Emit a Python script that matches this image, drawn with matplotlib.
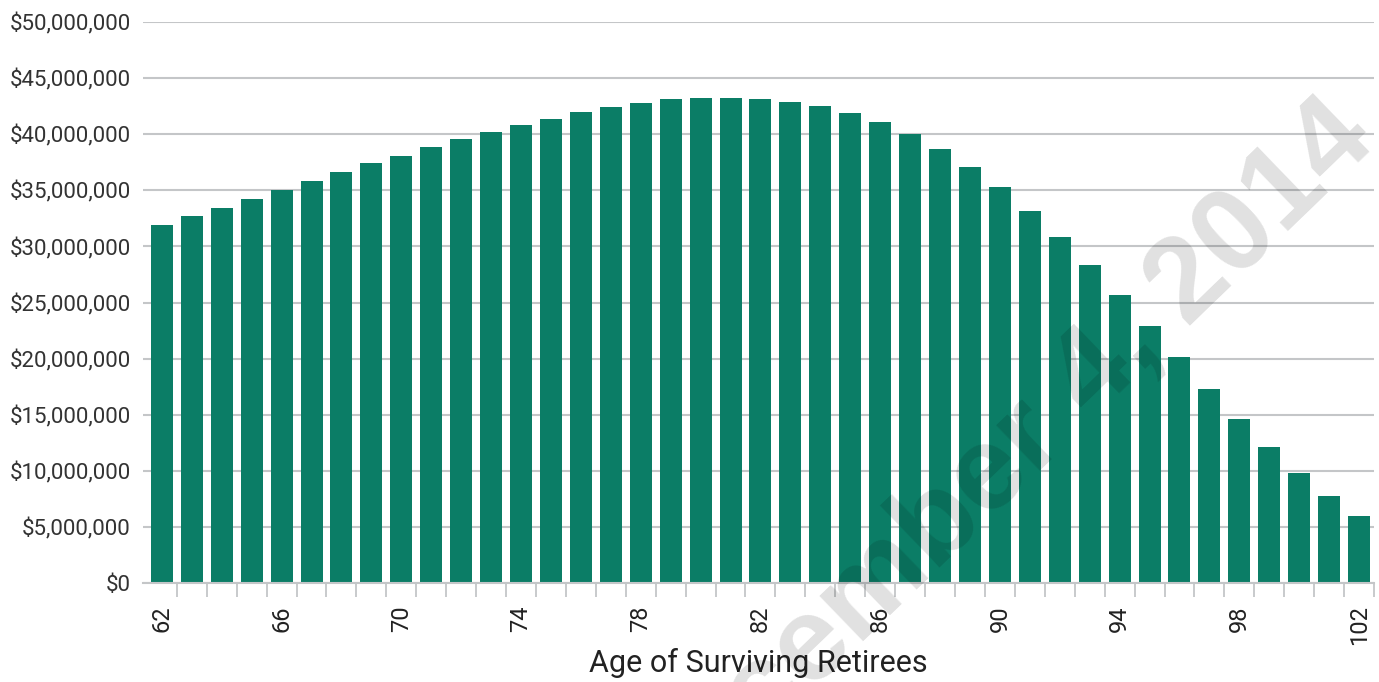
import matplotlib
matplotlib.use("Agg")
import matplotlib.pyplot as plt
from matplotlib.ticker import FixedLocator, StrMethodFormatter

# ages of surviving retirees and total value (in dollars)
ages = [62, 63, 64, 65, 66, 67, 68, 69, 70, 71, 72, 73, 74, 75, 76, 77, 78,
        79, 80, 81, 82, 83, 84, 85, 86, 87, 88, 89, 90, 91, 92, 93, 94, 95,
        96, 97, 98, 99, 100, 101, 102]
values_m = [31.9, 32.7, 33.4, 34.2, 35.0, 35.8, 36.6, 37.4, 38.1, 38.9, 39.6,
            40.2, 40.8, 41.4, 42.0, 42.4, 42.8, 43.1, 43.2, 43.2, 43.1, 42.9,
            42.5, 41.9, 41.1, 40.05, 38.7, 37.1, 35.3, 33.2, 30.8, 28.3, 25.7,
            22.9, 20.1, 17.3, 14.6, 12.1, 9.8, 7.75, 5.97]
values = [v * 1e6 for v in values_m]
x_labels = [62, 66, 70, 74, 78, 82, 86, 90, 94, 98, 102]
y_ticks = [0, 5e6, 10e6, 15e6, 20e6, 25e6, 30e6, 35e6, 40e6, 45e6, 50e6]
watermark = "December 4, 2014"

plt.rcParams["font.family"] = ["Roboto", "DejaVu Sans"]

fig = plt.figure(figsize=(13.79, 6.82), dpi=100)
ax = fig.add_axes([0.1037, 0.1452, 0.8927, 0.8225])

ax.bar(ages, values, width=0.735, color="#0b7d66", zorder=2)

ax.set_xlim(61.37, 102.5)
ax.set_ylim(0, 50e6)

# gridlines
ax.set_yticks(y_ticks)
ax.yaxis.set_major_formatter(StrMethodFormatter("${x:,.0f}"))
ax.grid(axis="y", color="#c4c6c8", linewidth=1.5, zorder=1)
ax.tick_params(axis="y", length=0, pad=9, labelsize=16, labelcolor="#333333")

# x ticks: labels every 4 years, small marks between bars
ax.set_xticks(x_labels)
ax.set_xticklabels([str(a) for a in x_labels], rotation=90)
ax.tick_params(axis="x", which="major", length=0, pad=16, labelsize=17,
               labelcolor="#222222")
ax.xaxis.set_minor_locator(FixedLocator([a + 0.5 for a in ages]))
ax.tick_params(axis="x", which="minor", length=10, width=1.3, color="#c4c6c8")

for side in ["top", "right", "left"]:
    ax.spines[side].set_visible(False)
ax.spines["bottom"].set_color("#c4c6c8")
ax.spines["bottom"].set_linewidth(1.5)

ax.set_xlabel("Age of Surviving Retirees", fontsize=22, color="#222222",
              labelpad=2)

fig.text(1.0, 0.79, watermark, transform=fig.transFigure,
         rotation=44, rotation_mode="anchor", ha="right", va="baseline",
         fontsize=86, fontweight="bold", family="Liberation Sans",
         color="black", alpha=0.12, zorder=10)

fig.savefig("out.png", dpi=100)
